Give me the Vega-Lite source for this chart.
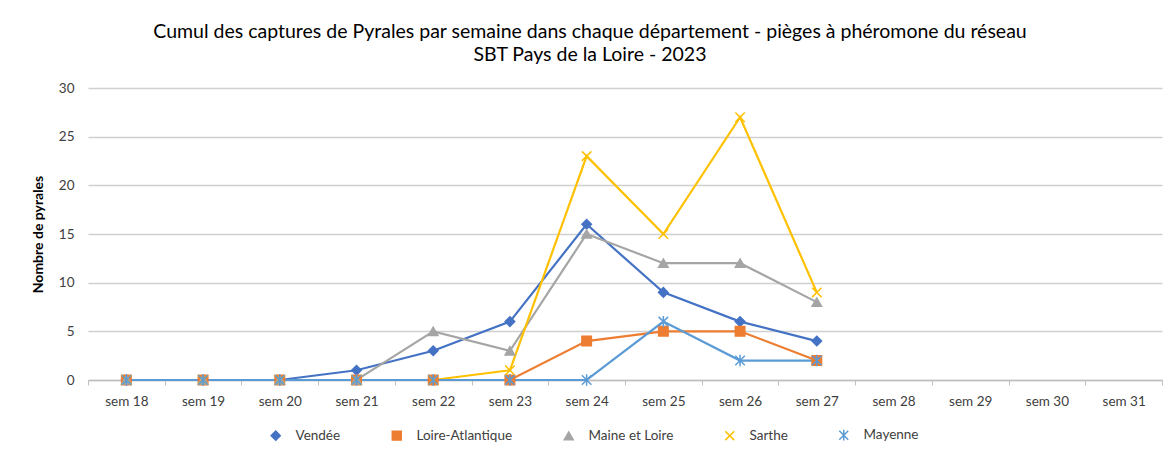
{
  "$schema": "https://vega.github.io/schema/vega-lite/v6.json",
  "autosize": "none",
  "width": 1074,
  "height": 292,
  "padding": {"left": 88, "top": 88, "right": 1, "bottom": 77},
  "background": "white",
  "title": {
    "text": ["Cumul des captures de Pyrales par semaine dans chaque département - pièges à phéromone du réseau", "SBT Pays de la Loire - 2023"],
    "font": "Lato",
    "fontSize": 19.5,
    "fontWeight": "normal",
    "color": "#000000",
    "anchor": "middle",
    "dx": -35,
    "offset": 16,
    "lineHeight": 23
  },
  "data": {"values": [
    {"sem": "sem 18", "dept": "Vendée", "n": 0},
    {"sem": "sem 19", "dept": "Vendée", "n": 0},
    {"sem": "sem 20", "dept": "Vendée", "n": 0},
    {"sem": "sem 21", "dept": "Vendée", "n": 1},
    {"sem": "sem 22", "dept": "Vendée", "n": 3},
    {"sem": "sem 23", "dept": "Vendée", "n": 6},
    {"sem": "sem 24", "dept": "Vendée", "n": 16},
    {"sem": "sem 25", "dept": "Vendée", "n": 9},
    {"sem": "sem 26", "dept": "Vendée", "n": 6},
    {"sem": "sem 27", "dept": "Vendée", "n": 4},
    {"sem": "sem 18", "dept": "Loire-Atlantique", "n": 0},
    {"sem": "sem 19", "dept": "Loire-Atlantique", "n": 0},
    {"sem": "sem 20", "dept": "Loire-Atlantique", "n": 0},
    {"sem": "sem 21", "dept": "Loire-Atlantique", "n": 0},
    {"sem": "sem 22", "dept": "Loire-Atlantique", "n": 0},
    {"sem": "sem 23", "dept": "Loire-Atlantique", "n": 0},
    {"sem": "sem 24", "dept": "Loire-Atlantique", "n": 4},
    {"sem": "sem 25", "dept": "Loire-Atlantique", "n": 5},
    {"sem": "sem 26", "dept": "Loire-Atlantique", "n": 5},
    {"sem": "sem 27", "dept": "Loire-Atlantique", "n": 2},
    {"sem": "sem 18", "dept": "Maine et Loire", "n": 0},
    {"sem": "sem 19", "dept": "Maine et Loire", "n": 0},
    {"sem": "sem 20", "dept": "Maine et Loire", "n": 0},
    {"sem": "sem 21", "dept": "Maine et Loire", "n": 0},
    {"sem": "sem 22", "dept": "Maine et Loire", "n": 5},
    {"sem": "sem 23", "dept": "Maine et Loire", "n": 3},
    {"sem": "sem 24", "dept": "Maine et Loire", "n": 15},
    {"sem": "sem 25", "dept": "Maine et Loire", "n": 12},
    {"sem": "sem 26", "dept": "Maine et Loire", "n": 12},
    {"sem": "sem 27", "dept": "Maine et Loire", "n": 8},
    {"sem": "sem 18", "dept": "Sarthe", "n": 0},
    {"sem": "sem 19", "dept": "Sarthe", "n": 0},
    {"sem": "sem 20", "dept": "Sarthe", "n": 0},
    {"sem": "sem 21", "dept": "Sarthe", "n": 0},
    {"sem": "sem 22", "dept": "Sarthe", "n": 0},
    {"sem": "sem 23", "dept": "Sarthe", "n": 1},
    {"sem": "sem 24", "dept": "Sarthe", "n": 23},
    {"sem": "sem 25", "dept": "Sarthe", "n": 15},
    {"sem": "sem 26", "dept": "Sarthe", "n": 27},
    {"sem": "sem 27", "dept": "Sarthe", "n": 9},
    {"sem": "sem 18", "dept": "Mayenne", "n": 0},
    {"sem": "sem 19", "dept": "Mayenne", "n": 0},
    {"sem": "sem 20", "dept": "Mayenne", "n": 0},
    {"sem": "sem 21", "dept": "Mayenne", "n": 0},
    {"sem": "sem 22", "dept": "Mayenne", "n": 0},
    {"sem": "sem 23", "dept": "Mayenne", "n": 0},
    {"sem": "sem 24", "dept": "Mayenne", "n": 0},
    {"sem": "sem 25", "dept": "Mayenne", "n": 6},
    {"sem": "sem 26", "dept": "Mayenne", "n": 2},
    {"sem": "sem 27", "dept": "Mayenne", "n": 2}
  ]},
  "encoding": {
    "x": {
      "field": "sem", "type": "nominal",
      "scale": {"domain": ["sem 18","sem 19","sem 20","sem 21","sem 22","sem 23","sem 24","sem 25","sem 26","sem 27","sem 28","sem 29","sem 30","sem 31"], "paddingInner": 0, "paddingOuter": 0},
      "axis": {
        "title": null, "labelAngle": 0, "labelFontSize": 13.5, "labelColor": "#404040",
        "domainColor": "#BFBFBF", "domainWidth": 1.5, "tickColor": "#BFBFBF", "tickSize": 5, "tickWidth": 1,
        "tickBand": "extent", "labelPadding": 9, "grid": false
      }
    },
    "y": {
      "field": "n", "type": "quantitative",
      "scale": {"domain": [0, 30]},
      "axis": {
        "title": "Nombre de pyrales", "titleFontSize": 14, "titleFontWeight": "bold", "titleColor": "#000000",
        "titleX": -50, "titleY": 146, "titleAlign": "center", "titleBaseline": "middle", "titleAngle": -90,
        "values": [0,5,10,15,20,25,30], "labelFontSize": 13.5, "labelColor": "#404040", "labelPadding": 14,
        "domain": false, "ticks": false, "grid": true, "gridColor": "#D0D0D0", "gridWidth": 1.5
      }
    }
  },
  "layer": [
    {
      "mark": {"type": "line", "strokeWidth": 2.2},
      "encoding": {
        "stroke": {"field": "dept", "type": "nominal", "title": null,
          "scale": {"domain": ["Vendée","Loire-Atlantique","Maine et Loire","Sarthe","Mayenne"], "range": ["#4472C4","#ED7D31","#A5A5A5","#FFC000","#5B9BD5"]}},
        "detail": {"field": "dept"}
      }
    },
    {
      "mark": {"type": "point", "opacity": 1, "size": 90, "strokeWidth": 1.5},
      "encoding": {
        "stroke": {"field": "dept", "type": "nominal", "title": null,
          "scale": {"domain": ["Vendée","Loire-Atlantique","Maine et Loire","Sarthe","Mayenne"], "range": ["#4472C4","#ED7D31","#A5A5A5","#FFC000","#5B9BD5"]}},
        "fill": {"field": "dept", "type": "nominal", "title": null,
          "scale": {"domain": ["Vendée","Loire-Atlantique","Maine et Loire","Sarthe","Mayenne"], "range": ["#4472C4","#ED7D31","#A5A5A5","#FFC000","#5B9BD5"]}},
        "shape": {"field": "dept", "type": "nominal", "title": null,
          "scale": {"domain": ["Vendée","Loire-Atlantique","Maine et Loire","Sarthe","Mayenne"], "range": ["diamond","square","triangle-up","M-1,-1L1,1M-1,1L1,-1","M-1,-1L1,1M-1,1L1,-1M0,-1.2L0,1.2"]}}
      }
    }
  ],
  "resolve": {"scale": {"stroke": "shared"}},
  "config": {
    "view": {"stroke": null},
    "font": "Lato",
    "legend": {
      "orient": "none", "direction": "horizontal", "legendX": 181, "legendY": 340,
      "labelFontSize": 13.5, "labelColor": "#404040", "symbolSize": 80, "columnPadding": 48,
      "symbolStrokeWidth": 1.5, "labelOffset": 13
    }
  }
}
